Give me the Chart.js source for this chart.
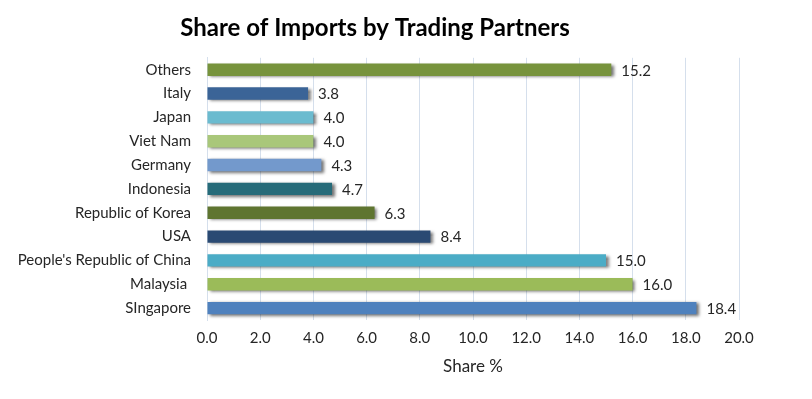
<!DOCTYPE html>
<html>
<head>
<meta charset="utf-8">
<script src="https://cdn.jsdelivr.net/npm/chart.js@4/dist/chart.umd.min.js"></script>
<style>
html,body{margin:0;padding:0;background:#fff;}
#wrap{width:812px;height:399px;position:relative;}
</style>
</head>
<body>
<div id="wrap"><canvas id="c"></canvas></div>
<script>
const categories = ["Others","Italy","Japan","Viet Nam","Germany","Indonesia","Republic of Korea","USA","People's Republic of China","Malaysia ","SIngapore"];
const shareValues = [15.2,3.8,4.0,4.0,4.3,4.7,6.3,8.4,15.0,16.0,18.4];
const barColors = ["#77933C","#3B6497","#6BBBCF","#A9C77A","#7399CC","#266B79","#5F7530","#2A4A73","#4BACC6","#9BBB59","#4F81BD"];
const xTicks = [0,2,4,6,8,10,12,14,16,18,20];
const FONT = "Lato, 'Open Sans', sans-serif";

const shadowPlugin = {
  id:'barShadow',
  beforeDatasetsDraw(chart){
    const ctx = chart.ctx;
    ctx.save();
    ctx.shadowColor = 'rgba(0,0,0,0.55)';
    ctx.shadowBlur = 3;
    ctx.shadowOffsetX = 2.5;
    ctx.shadowOffsetY = 1.5;
  },
  afterDatasetsDraw(chart){
    chart.ctx.restore();
    const ctx = chart.ctx;
    const meta = chart.getDatasetMeta(0);
    ctx.save();
    ctx.font = "15px " + FONT;
    ctx.fillStyle = "#262626";
    ctx.textAlign = "left";
    ctx.textBaseline = "middle";
    meta.data.forEach((el,i)=>{
      ctx.fillText(shareValues[i].toFixed(1), el.x + 10, el.y + 1);
    });
    ctx.restore();
  }
};

new Chart(document.getElementById('c'), {
  type:'bar',
  data:{
    labels: categories,
    datasets:[{
      data: shareValues,
      backgroundColor: barColors,
      borderWidth: 0,
      barPercentage: 0.52,
      categoryPercentage: 1.0
    }]
  },
  options:{
    indexAxis:'y',
    responsive:true,
    maintainAspectRatio:false,
    animation:false,
    layout:{padding:{left:11,right:73,top:0,bottom:0}},
    plugins:{
      legend:{display:false},
      tooltip:{enabled:false},
      title:{
        display:true,
        text:"Share of Imports by Trading Partners",
        color:"#000",
        font:{family:FONT,size:24,weight:'bold'},
        padding:{top:14,bottom:15}
      }
    },
    scales:{
      x:{
        min:0,max:20,
        afterBuildTicks(scale){ scale.ticks = xTicks.map(v=>({value:v})); },
        ticks:{
          color:"#262626",
          font:{family:FONT,size:15},
          padding:9,
          callback:(v)=>Number(v).toFixed(1)
        },
        grid:{color:"#D5DFEC",drawTicks:false,lineWidth:1},
        border:{display:false},
        title:{
          display:true,text:"Share %",color:"#262626",
          font:{family:FONT,size:17},
          padding:{top:8,bottom:22}
        },
        afterFit(scale){ scale.height = 79; }
      },
      y:{
        ticks:{
          color:"#262626",
          font:{family:FONT,size:15},
          padding:16
        },
        grid:{display:false,drawTicks:false},
        border:{display:true,color:"#D5DFEC"},
        afterFit(scale){ scale.width = 196; }
      }
    }
  },
  plugins:[shadowPlugin]
});
</script>
</body>
</html>
